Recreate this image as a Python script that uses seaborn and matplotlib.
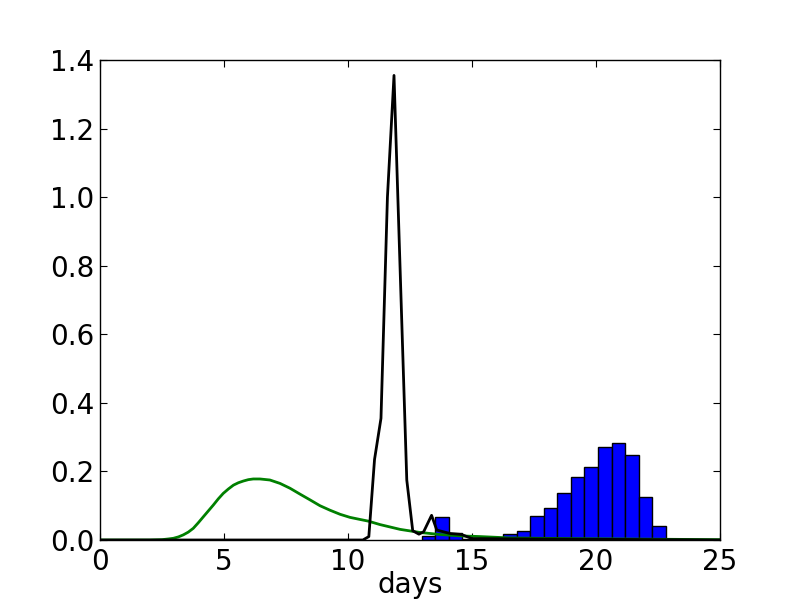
import matplotlib
matplotlib.use('Agg')
import pandas as pd
import seaborn as sns
import matplotlib.pyplot as plt

# Histogram (density) - bin edges in days and bar heights
bin_edges = [12.97, 13.52, 14.06, 14.61, 15.16, 15.70, 16.25, 16.80, 17.34, 17.89,
             18.44, 18.99, 19.53, 20.08, 20.63, 21.17, 21.72, 22.27, 22.81, 23.36]
bin_heights = [0.012, 0.067, 0.020, 0.004, 0.002, 0.0, 0.017, 0.025, 0.070, 0.092,
               0.137, 0.184, 0.213, 0.271, 0.282, 0.249, 0.125, 0.040, 0.003]

# Black line (sharp peak)
black_days = [0, 10.6, 10.84, 11.07, 11.33, 11.59, 11.855, 12.11, 12.37, 12.61,
              12.86, 13.05, 13.37, 13.58, 14.11, 14.58, 15.0, 25]
black_vals = [0, 0.0, 0.010, 0.235, 0.355, 1.0, 1.355, 0.77, 0.175, 0.027,
              0.017, 0.024, 0.072, 0.029, 0.019, 0.016, 0.004, 0.0]

# Green curve (broad distribution)
green_days = [0, 1.0, 2.0, 2.5, 2.75, 2.96, 3.16, 3.36, 3.56, 3.76, 3.96, 4.17,
              4.37, 4.57, 4.77, 4.97, 5.18, 5.38, 5.58, 5.78, 5.98, 6.18, 6.45,
              6.85, 7.26, 7.66, 8.06, 8.47, 8.87, 9.27, 9.68, 10.08, 10.48, 10.82,
              11.29, 12.1, 12.9, 13.71, 14.52, 15.32, 16.53, 18.8, 21.0, 23.0, 25.0]
green_vals = [0, 0, 0, 0.001, 0.003, 0.005, 0.009, 0.015, 0.023, 0.034, 0.050, 0.068,
              0.085, 0.102, 0.120, 0.136, 0.149, 0.160, 0.167, 0.172, 0.176, 0.178, 0.178,
              0.175, 0.165, 0.151, 0.134, 0.117, 0.100, 0.087, 0.075, 0.066, 0.060, 0.055,
              0.045, 0.031, 0.022, 0.016, 0.012, 0.010, 0.006, 0.004, 0.003, 0.002, 0.001]


def main():
    sns.set_style('white', rc={'text.color': 'black', 'axes.labelcolor': 'black',
                               'xtick.color': 'black', 'ytick.color': 'black',
                               'axes.edgecolor': 'black'})
    plt.rcParams['font.family'] = ['DejaVu Sans']

    fig, ax = plt.subplots(figsize=(8, 6), dpi=100)
    fig.subplots_adjust(left=0.125, right=0.9, bottom=0.1, top=0.9)

    centers = [(bin_edges[i] + bin_edges[i + 1]) / 2 for i in range(len(bin_heights))]
    hist_df = pd.DataFrame({'days': centers, 'h': bin_heights})
    sns.histplot(data=hist_df, x='days', weights='h', bins=bin_edges, stat='count',
                 color='#0000ff', alpha=1.0, edgecolor='black', linewidth=1.0, ax=ax)

    sns.lineplot(x=green_days, y=green_vals, color='green', linewidth=2.0, ax=ax)
    sns.lineplot(x=black_days, y=black_vals, color='black', linewidth=2.0, ax=ax)

    ax.set_xlim(0, 25)
    ax.set_ylim(0, 1.4)
    ax.set_xticks([0, 5, 10, 15, 20, 25])
    ax.set_yticks([0.0, 0.2, 0.4, 0.6, 0.8, 1.0, 1.2, 1.4])
    ax.set_yticklabels(['0.0', '0.2', '0.4', '0.6', '0.8', '1.0', '1.2', '1.4'])
    ax.set_xlabel('days', fontsize=20, labelpad=-4)
    ax.set_ylabel('')

    ax.tick_params(direction='in', length=5, width=0.8, labelsize=20,
                   top=True, right=True, bottom=True, left=True)
    ax.tick_params(axis='y', pad=4)
    ax.tick_params(axis='x', pad=6)
    for s in ax.spines.values():
        s.set_color('black')
        s.set_linewidth(1.0)

    fig.savefig('out.png', dpi=100)


if __name__ == "__main__":
    main()
